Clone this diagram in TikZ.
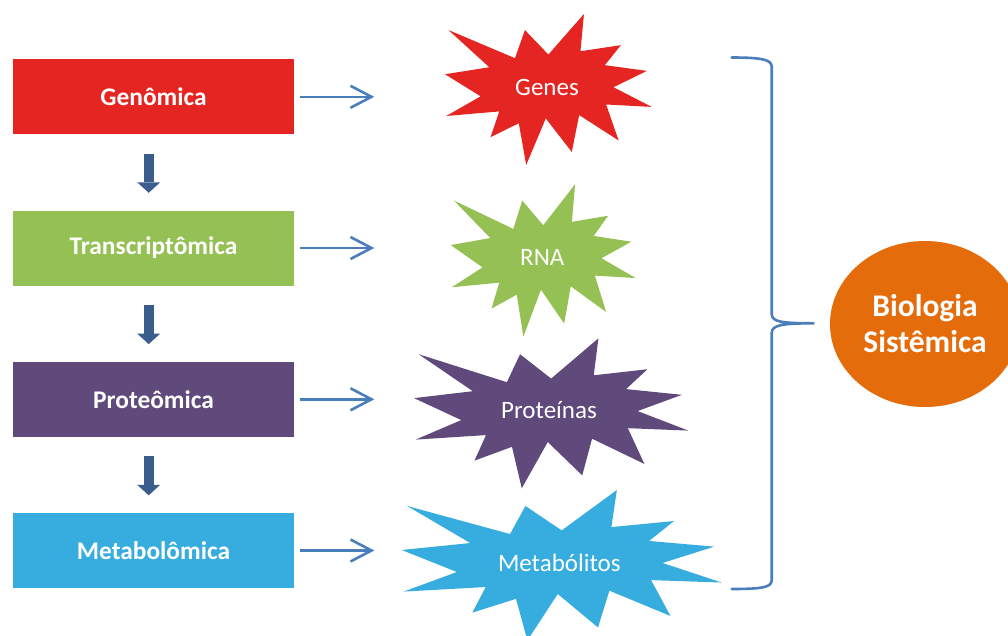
\documentclass[tikz,border=0pt]{standalone}
\usepackage{fontspec}
\setmainfont{Carlito}
\usetikzlibrary{arrows.meta,shapes.geometric,calc}
\definecolor{cred}{HTML}{E52521}
\definecolor{cgreen}{HTML}{95C154}
\definecolor{cpurple}{HTML}{604A7B}
\definecolor{cblue}{HTML}{37ADDF}
\definecolor{corange}{HTML}{E46C0A}
\definecolor{carrow}{HTML}{4A7EBB}
\definecolor{cdarrow}{HTML}{3B5D8D}
\newcommand\mystarburst[5]{%
  \begin{scope}[shift={(#2,#3)},xscale=#4,yscale=#5]
  \fill[#1] (500,268.5) -- (672.3,0) -- (655.3,246.5) -- (850.9,206.3) -- (773.2,338.7)
    -- (976.7,376.7) -- (815.1,485.0) -- (1000,615.3) -- (779.5,599.2) -- (840.0,837.7)
    -- (649.1,669.3) -- (613.3,913.8) -- (487.6,691.4) -- (392.8,1000) -- (357.2,723.5)
    -- (220.5,815.6) -- (262.4,645.2) -- (6.25,675.3) -- (172.3,545.1) -- (0,398.8)
    -- (214.2,352.6) -- (17.1,106.3) -- (338.5,292.6) -- (386.7,106.3) -- cycle;
  \end{scope}}
\tikzset{
  layerbox/.style={minimum width=281pt,minimum height=75pt,inner sep=0pt,text=white,
    font=\fontsize{25.4}{30}\selectfont\bfseries},
  burstlabel/.style={inner sep=0pt,text=white,font=\fontsize{25}{30}\selectfont},
  rarr/.style={draw=carrow,line width=2.6pt,-{Straight Barb[length=21pt,width=22pt]}},
  darr/.style={draw=cdarrow,line width=10pt,-{Triangle[width=23pt,length=10.5pt,line width=0pt]},
    shorten <=19pt,shorten >=17.5pt},
  bracepath/.style={draw=carrow,line width=2.6pt,line cap=round},
}
\begin{document}
\begin{tikzpicture}[x=1pt,y=-1pt]
\useasboundingbox (0,0) rectangle (1008,635);
% starbursts
\mystarburst{cred}{445}{14}{0.2067}{0.151}
\mystarburst{cgreen}{450.7}{184.3}{0.185}{0.1524}
\mystarburst{cpurple}{414}{338.3}{0.2743}{0.150}
\mystarburst{cblue}{401.7}{490}{0.320}{0.1504}
\node[burstlabel] (sg) at (547,87.3) {Genes};
\node[burstlabel] (sr) at (542.3,257.7) {RNA};
\node[burstlabel] (sp) at (549,410) {Proteínas};
\node[burstlabel] (sm) at (559.3,563.3) {Metabólitos};
% layer boxes
\node[layerbox,fill=cred] (g) at (153.5,96.8) {Genômica};
\node[layerbox,fill=cgreen] (t) at (153.5,248) {Transcriptômica};
\node[layerbox,fill=cpurple] (p) at (153.5,399.3) {Proteômica};
\node[layerbox,fill=cblue] (m) at (153.5,550.5) {Metabolômica};
% down arrows
\draw[darr] ([xshift=-4.8pt]g.south) -- ([xshift=-4.8pt]t.north);
\draw[darr] ([xshift=-4.8pt]t.south) -- ([xshift=-4.8pt]p.north);
\draw[darr] ([xshift=-4.8pt]p.south) -- ([xshift=-4.8pt]m.north);
% right arrows
\coordinate (ag) at (374.3,96.8);
\coordinate (at) at (374.3,248);
\coordinate (ap) at (374.3,399.3);
\coordinate (am) at (374.3,550.5);
\draw[rarr] ([xshift=6pt]g.east) -- (ag);
\draw[rarr] ([xshift=6pt]t.east) -- (at);
\draw[rarr] ([xshift=6pt]p.east) -- (ap);
\draw[rarr] ([xshift=6pt]m.east) -- (am);
% brace
\coordinate (btop) at (731.7,57.5);
\coordinate (btip) at (814.3,323.3);
\coordinate (bbot) at (731.7,589);
\draw[bracepath] (btop) .. controls (764,57.5) and (771.7,60) .. (771.7,67)
  -- (771.7,314) .. controls (771.7,322) and (782,323.3) .. (btip)
  .. controls (782,323.3) and (771.7,325) .. (771.7,333)
  -- (771.7,580) .. controls (771.7,587) and (764,589) .. (bbot);
% ellipse
\node[ellipse,fill=corange,minimum width=190pt,minimum height=166pt,inner sep=0pt,
  text=white,align=center,font=\fontsize{31.5}{36}\selectfont\bfseries] (bs) at (925,324)
  {Biologia\\Sistêmica};
\end{tikzpicture}
\end{document}
